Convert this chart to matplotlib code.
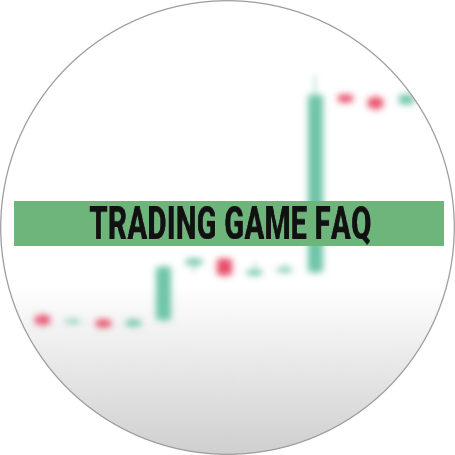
import numpy as np
import matplotlib
matplotlib.use("Agg")
import matplotlib.pyplot as plt
from matplotlib.patches import Rectangle, Circle, PathPatch
from matplotlib.path import Path

# candle data (index, OHLC)
idx = np.arange(13)
opens = [101.4, 100.75, 101.05, 100.4, 101.0, 106.5, 107.1, 105.5, 105.85, 105.8, 123.5, 123.2, 122.6]
closes = [100.6, 101.05, 100.35, 101.0, 106.3, 107.1, 105.5, 106.0, 106.15, 123.5, 122.8, 122.2, 123.5]
highs = [101.7, 101.1, 101.2, 101.1, 106.5, 107.2, 107.2, 106.8, 106.6, 125.5, 123.6, 123.6, 123.6]
lows = [100.3, 100.7, 100.2, 100.3, 100.9, 105.7, 105.3, 105.4, 105.8, 105.6, 122.7, 121.8, 122.5]
title = "TRADING GAME FAQ"

UP = "#6fc6a9"
DOWN = "#e94c68"
BANNER = "#6db57a"


def blur(sigma):
    r = int(3 * sigma) + 1
    k = np.exp(-0.5 * (np.arange(-r, r + 1) / sigma) ** 2)
    k /= k.sum()

    def conv(a):
        a = np.apply_along_axis(lambda v: np.convolve(v, k, "same"), 0, a)
        return np.apply_along_axis(lambda v: np.convolve(v, k, "same"), 1, a)

    def filt(im, dpi):
        p = np.pad(im, ((r, r), (r, r), (0, 0)))
        a = p[..., 3:4]
        prem = conv(p[..., :3] * a)
        aa = conv(a[..., 0])[..., None]
        rgb = np.where(aa > 1e-6, prem / np.maximum(aa, 1e-6), 0)
        out = np.concatenate([np.clip(rgb, 0, 1), np.clip(aa, 0, 1)], axis=2)
        return out, -r, -r
    return filt


def resample(width_px, height_px):
    # stretch the rendered text to a condensed box, keeping its centre
    def filt(im, dpi):
        h, w, _ = im.shape
        nw = int(round(width_px * dpi / 100))
        nh = int(round(height_px * dpi / 100))
        xs = np.linspace(0, w - 1, nw)
        ys = np.linspace(0, h - 1, nh)
        x0 = np.floor(xs).astype(int)
        x1 = np.minimum(x0 + 1, w - 1)
        fx = (xs - x0)[None, :, None]
        tmp = im[:, x0] * (1 - fx) + im[:, x1] * fx
        y0 = np.floor(ys).astype(int)
        y1 = np.minimum(y0 + 1, h - 1)
        fy = (ys - y0)[:, None, None]
        out = tmp[y0] * (1 - fy) + tmp[y1] * fy
        return out, int(round((w - nw) / 2)), int(round((h - nh) / 2))
    return filt


fig = plt.figure(figsize=(4.55, 4.55), dpi=100)
fig.patch.set_facecolor("white")

# background gradient
bg = fig.add_axes([0, 0, 1, 1], zorder=0)
bg.set_xlim(0, 455)
bg.set_ylim(455, 0)
bg.axis("off")
rows = np.arange(455)
shade = np.where(rows < 285, 1.0, 1.0 - 0.19 * (rows - 285) / 170)
bg.imshow(shade[:, None].repeat(2, axis=1), cmap="gray", vmin=0, vmax=1,
          extent=[0, 455, 455, 0], aspect="auto", interpolation="bilinear")

# candles
ax = fig.add_axes([0, 0, 1, 1], zorder=1)
ax.patch.set_alpha(0)
ax.axis("off")
ax.set_xlim(-1.403, 13.614)
ax.set_ylim(87.5, 133)
o = np.array(opens)
c = np.array(closes)
cols = [UP if cc >= oo else DOWN for oo, cc in zip(o, c)]
wicks = ax.vlines(idx, lows, highs, colors=cols, lw=1.3, alpha=0.55)
wicks.set_agg_filter(blur(2.6))
bars = ax.bar(idx, np.abs(c - o), bottom=np.minimum(o, c), width=0.5, color=cols)
for b in bars:
    b.set_agg_filter(blur(3.4))

# overlay: banner, title, circular frame
top = fig.add_axes([0, 0, 1, 1], zorder=2)
top.patch.set_alpha(0)
top.axis("off")
top.set_xlim(0, 455)
top.set_ylim(455, 0)
top.add_patch(Rectangle((13.5, 201), 430, 44.5, color=BANNER, lw=0))
t = top.text(231, 237.6, title, ha="center", va="baseline", fontsize=30,
             family="Roboto", weight="black", color="#111111", clip_on=False)
t.set_agg_filter(resample(282, 40.5))

cx, cy, rad = 227.5, 227.5, 226.8
th = np.linspace(0, 2 * np.pi, 400)
circ = np.column_stack([cx + rad * np.cos(th), cy + rad * np.sin(th)])[::-1]
square = np.array([[-5, -5], [460, -5], [460, 460], [-5, 460], [-5, -5]])
verts = np.vstack([square, circ])
codes = ([Path.MOVETO] + [Path.LINETO] * 3 + [Path.CLOSEPOLY]
         + [Path.MOVETO] + [Path.LINETO] * (len(circ) - 1))
top.add_patch(PathPatch(Path(verts, codes), facecolor="white", lw=0))
top.add_patch(Circle((cx, cy), rad, fill=False, ec="#9c9c9c", lw=0.9))

fig.savefig("out.png", dpi=100, facecolor="white")
